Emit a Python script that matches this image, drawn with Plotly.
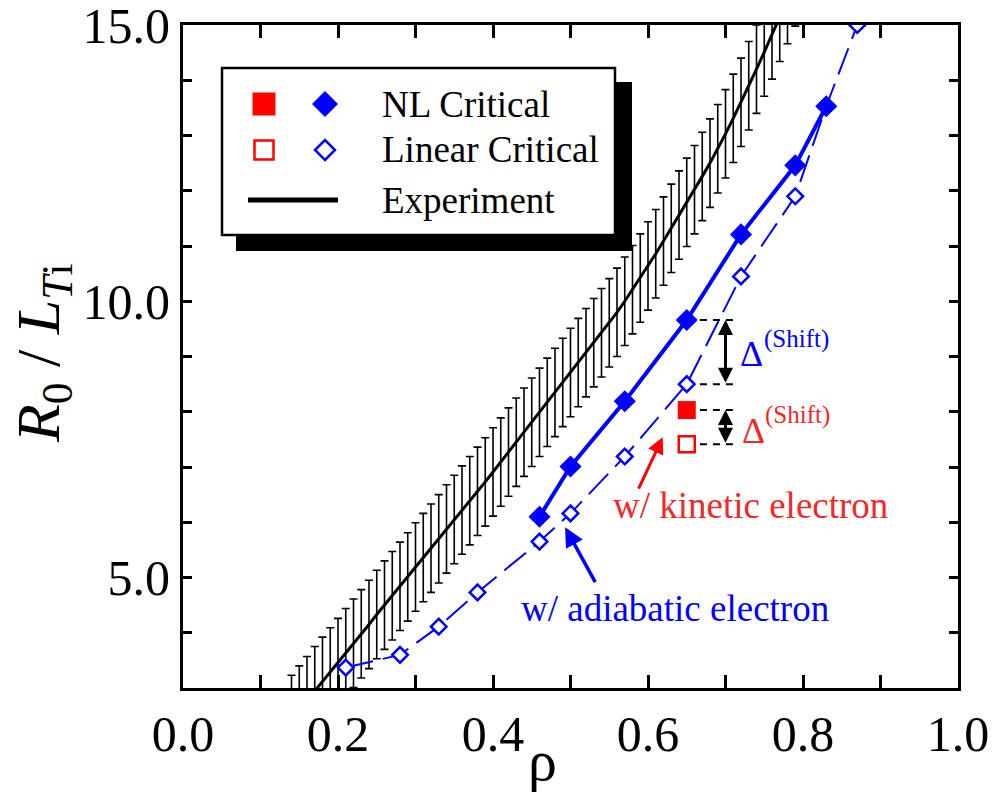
import plotly.graph_objects as go

# ---------------- data ----------------
exp_rho = [0.14, 0.15, 0.16, 0.17, 0.18, 0.19, 0.20, 0.21, 0.22, 0.23, 0.24, 0.25,
           0.26, 0.27, 0.28, 0.29, 0.30, 0.31, 0.32, 0.33, 0.34, 0.35, 0.36, 0.37,
           0.38, 0.39, 0.40, 0.41, 0.42, 0.43, 0.44, 0.45, 0.46, 0.47, 0.48, 0.49,
           0.50, 0.51, 0.52, 0.53, 0.54, 0.55, 0.56, 0.57, 0.58, 0.59, 0.60, 0.61,
           0.62, 0.63, 0.64, 0.65, 0.66, 0.67, 0.68, 0.69, 0.70, 0.71, 0.72, 0.73,
           0.74, 0.75, 0.76, 0.77, 0.78, 0.79, 0.80]
exp_val = [2.43, 2.60, 2.77, 2.95, 3.12, 3.29, 3.46, 3.64, 3.81, 3.98, 4.15, 4.33,
           4.50, 4.67, 4.84, 5.01, 5.19, 5.36, 5.53, 5.70, 5.88, 6.05, 6.22, 6.39,
           6.56, 6.73, 6.91, 7.09, 7.27, 7.45, 7.63, 7.81, 7.99, 8.17, 8.35, 8.53,
           8.71, 8.89, 9.07, 9.25, 9.43, 9.61, 9.80, 10.00, 10.21, 10.42, 10.64, 10.86,
           11.09, 11.32, 11.56, 11.79, 12.02, 12.26, 12.50, 12.76, 13.03, 13.31, 13.60, 13.90,
           14.20, 14.51, 14.82, 15.14, 15.46, 15.78, 16.10]
exp_err = 0.8

nl_rho = [0.46, 0.50, 0.57, 0.65, 0.72, 0.79, 0.83]
nl_val = [6.10, 7.01, 8.19, 9.66, 11.21, 12.46, 13.53]

lin_rho = [0.21, 0.28, 0.33, 0.38, 0.46, 0.50, 0.57, 0.65, 0.72, 0.79, 0.83, 0.87]
lin_val = [3.37, 3.60, 4.11, 4.73, 5.65, 6.16, 7.19, 8.50, 10.45, 11.90, 13.53, 15.0]

kin_rho = [0.65]
kin_nl = [8.03]
kin_lin = [7.41]

x_ticks = [0.0, 0.2, 0.4, 0.6, 0.8, 1.0]
y_ticks = [5.0, 10.0, 15.0]

BLUE = "#0000ff"
RED = "#ff0000"
RED_TXT = "#ee2a2a"
FONT = "Liberation Serif"

W, H = 996, 800
# plot-area edges in page pixels
L, R, T, B = 183, 958, 25, 688
def px(x):
    return (x - L) / (R - L)
def py(y):
    return (B - y) / (B - T)

fig = go.Figure()

# experiment with error bars
fig.add_trace(go.Scatter(
    x=exp_rho, y=exp_val, mode="lines",
    line=dict(color="black", width=3),
    error_y=dict(type="constant", value=exp_err, color="black", thickness=1.6, width=4),
    hoverinfo="skip"))

# linear critical (adiabatic)
fig.add_trace(go.Scatter(
    x=lin_rho, y=lin_val, mode="lines+markers",
    line=dict(color=BLUE, width=2, dash="28px,10px"),
    marker=dict(symbol="diamond", size=12, color="white", line=dict(color=BLUE, width=2.5))))

# NL critical (adiabatic)
fig.add_trace(go.Scatter(
    x=nl_rho, y=nl_val, mode="lines+markers",
    line=dict(color=BLUE, width=4),
    marker=dict(symbol="diamond", size=17, color=BLUE, line=dict(width=0))))

# kinetic electron points
fig.add_trace(go.Scatter(
    x=kin_rho, y=kin_nl, mode="markers",
    marker=dict(symbol="square", size=18, color=RED, line=dict(width=0))))
fig.add_trace(go.Scatter(
    x=kin_rho, y=kin_lin, mode="markers",
    marker=dict(symbol="square", size=16, color="white", line=dict(color=RED, width=2.5))))

shapes = []
annotations = []

# dashed guide lines and double arrows for the shifts
x_guide0, x_guide1, x_arrow = kin_rho[0] + 0.017, 0.71, 0.70
for yv in [nl_val[3], lin_val[7], kin_nl[0], kin_lin[0]]:
    shapes.append(dict(type="line", xref="x", yref="y", x0=x_guide0, x1=x_guide1,
                       y0=yv, y1=yv, line=dict(color="black", width=2, dash="7px,6px")))
for top, bot in [(nl_val[3], lin_val[7]), (kin_nl[0], kin_lin[0])]:
    annotations.append(dict(x=x_arrow, y=top, ax=x_arrow, ay=bot, xref="x", yref="y",
                            axref="x", ayref="y", showarrow=True, text="",
                            arrowhead=2, startarrowhead=2, arrowside="end+start",
                            arrowsize=1.0, startarrowsize=1.0, arrowwidth=3,
                            arrowcolor="black"))

# Delta labels
annotations += [
    dict(x=0.716, y=9.05, xref="x", yref="y", text="Δ", showarrow=False,
         xanchor="left", yanchor="middle", font=dict(family=FONT, size=36, color=BLUE)),
    dict(x=0.747, y=9.32, xref="x", yref="y", text="(Shift)", showarrow=False,
         xanchor="left", yanchor="middle", font=dict(family=FONT, size=25, color=BLUE)),
    dict(x=0.719, y=7.66, xref="x", yref="y", text="Δ", showarrow=False,
         xanchor="left", yanchor="middle", font=dict(family=FONT, size=36, color=RED_TXT)),
    dict(x=0.748, y=7.94, xref="x", yref="y", text="(Shift)", showarrow=False,
         xanchor="left", yanchor="middle", font=dict(family=FONT, size=25, color=RED_TXT)),
]

# pointer arrows and labels
annotations += [
    dict(x=0.619, y=7.54, ax=0.587, ay=6.58, xref="x", yref="y", axref="x", ayref="y",
         showarrow=True, text="", arrowhead=2, arrowsize=1.1, arrowwidth=3, arrowcolor=RED),
    dict(x=0.732, y=6.30, xref="x", yref="y", text="w/ kinetic electron", showarrow=False,
         xanchor="center", yanchor="middle", font=dict(family=FONT, size=37, color=RED_TXT)),
    dict(x=0.493, y=5.91, ax=0.533, ay=4.89, xref="x", yref="y", axref="x", ayref="y",
         showarrow=True, text="", arrowhead=2, arrowsize=1.1, arrowwidth=3.5, arrowcolor=BLUE),
    dict(x=0.635, y=4.44, xref="x", yref="y", text="w/ adiabatic electron", showarrow=False,
         xanchor="center", yanchor="middle", font=dict(family=FONT, size=37, color=BLUE)),
]

# ---------------- legend (drawn) ----------------
shapes.append(dict(type="rect", xref="paper", yref="paper", x0=px(236), x1=px(632),
                   y0=py(251), y1=py(82), fillcolor="black", line=dict(width=0), layer="above"))
shapes.append(dict(type="rect", xref="paper", yref="paper", x0=px(222), x1=px(615),
                   y0=py(235), y1=py(68), fillcolor="white", line=dict(color="black", width=2.5),
                   layer="above"))

def sq(cx, cy, half, fill, lc, lw):
    return dict(type="rect", xref="paper", yref="paper", x0=px(cx - half), x1=px(cx + half),
                y0=py(cy + half), y1=py(cy - half), fillcolor=fill,
                line=dict(color=lc, width=lw), layer="above")

def dia(cx, cy, half, fill, lc, lw):
    path = "M {a},{b} L {c},{d} L {e},{f} L {g},{h} Z".format(
        a=px(cx - half), b=py(cy), c=px(cx), d=py(cy - half),
        e=px(cx + half), f=py(cy), g=px(cx), h=py(cy + half))
    return dict(type="path", xref="paper", yref="paper", path=path, fillcolor=fill,
                line=dict(color=lc, width=lw), layer="above")

shapes += [
    sq(264, 104, 11.5, RED, RED, 0),
    dia(325, 104, 13, BLUE, BLUE, 0),
    sq(264, 150, 9.5, "white", RED, 2.5),
    dia(325, 150, 10, "white", BLUE, 2.5),
    dict(type="line", xref="paper", yref="paper", x0=px(248), x1=px(338),
         y0=py(200), y1=py(200), line=dict(color="black", width=5), layer="above"),
]
for txt, yy in [("NL Critical", 104.5), ("Linear Critical", 149.6), ("Experiment", 200.5)]:
    annotations.append(dict(x=px(380), y=py(yy), xref="paper", yref="paper", text=txt,
                            showarrow=False, xanchor="left", yanchor="middle",
                            font=dict(family=FONT, size=37, color="black")))

# axis titles
annotations.append(dict(x=px(542), y=py(760), xref="paper", yref="paper", text="ρ",
                        showarrow=False, xanchor="center", yanchor="middle",
                        font=dict(family=FONT, size=58, color="black")))
annotations.append(dict(x=px(42), y=py(353), xref="paper", yref="paper",
                        text="<i>R</i><sub>0</sub> / <i>L</i><sub><i>T</i>i</sub>",
                        textangle=-90, showarrow=False, xanchor="center", yanchor="middle",
                        font=dict(family=FONT, size=62, color="black")))

fig.update_layout(
    width=W, height=H,
    margin=dict(l=L, r=W - R, t=T, b=H - B, autoexpand=False),
    paper_bgcolor="white", plot_bgcolor="white",
    showlegend=False, hovermode=False,
    shapes=shapes, annotations=annotations,
    font=dict(family=FONT, color="black"),
)
fig.update_xaxes(range=[0, 1], tickvals=x_ticks, ticktext=["%.1f" % v for v in x_ticks],
                 ticks="inside", ticklen=13, tickwidth=2.5, tickcolor="black",
                 minor=dict(dtick=0.1, tick0=0, ticks="inside", ticklen=13, tickwidth=2.5,
                            tickcolor="black"),
                 showline=True, linewidth=3, linecolor="black", mirror="ticks",
                 showgrid=False, zeroline=False, ticklabeloverflow="allow", automargin=False,
                 tickfont=dict(family=FONT, size=50, color="black"))
fig.update_yaxes(range=[3, 15], tickvals=y_ticks, ticktext=["%.1f" % v for v in y_ticks],
                 ticks="inside", ticklen=9, tickwidth=2.5, tickcolor="black",
                 minor=dict(dtick=1, tick0=0, ticks="inside", ticklen=9, tickwidth=2.5,
                            tickcolor="black"),
                 showline=True, linewidth=3, linecolor="black", mirror="ticks",
                 showgrid=False, zeroline=False, ticklabeloverflow="allow", automargin=False,
                 tickfont=dict(family=FONT, size=50, color="black"))

# remove the default page margin so the 996x800 figure fills the window exactly
fig.write_html("out.html", config={"displayModeBar": False},
               post_script="document.body.style.margin='0px';")
